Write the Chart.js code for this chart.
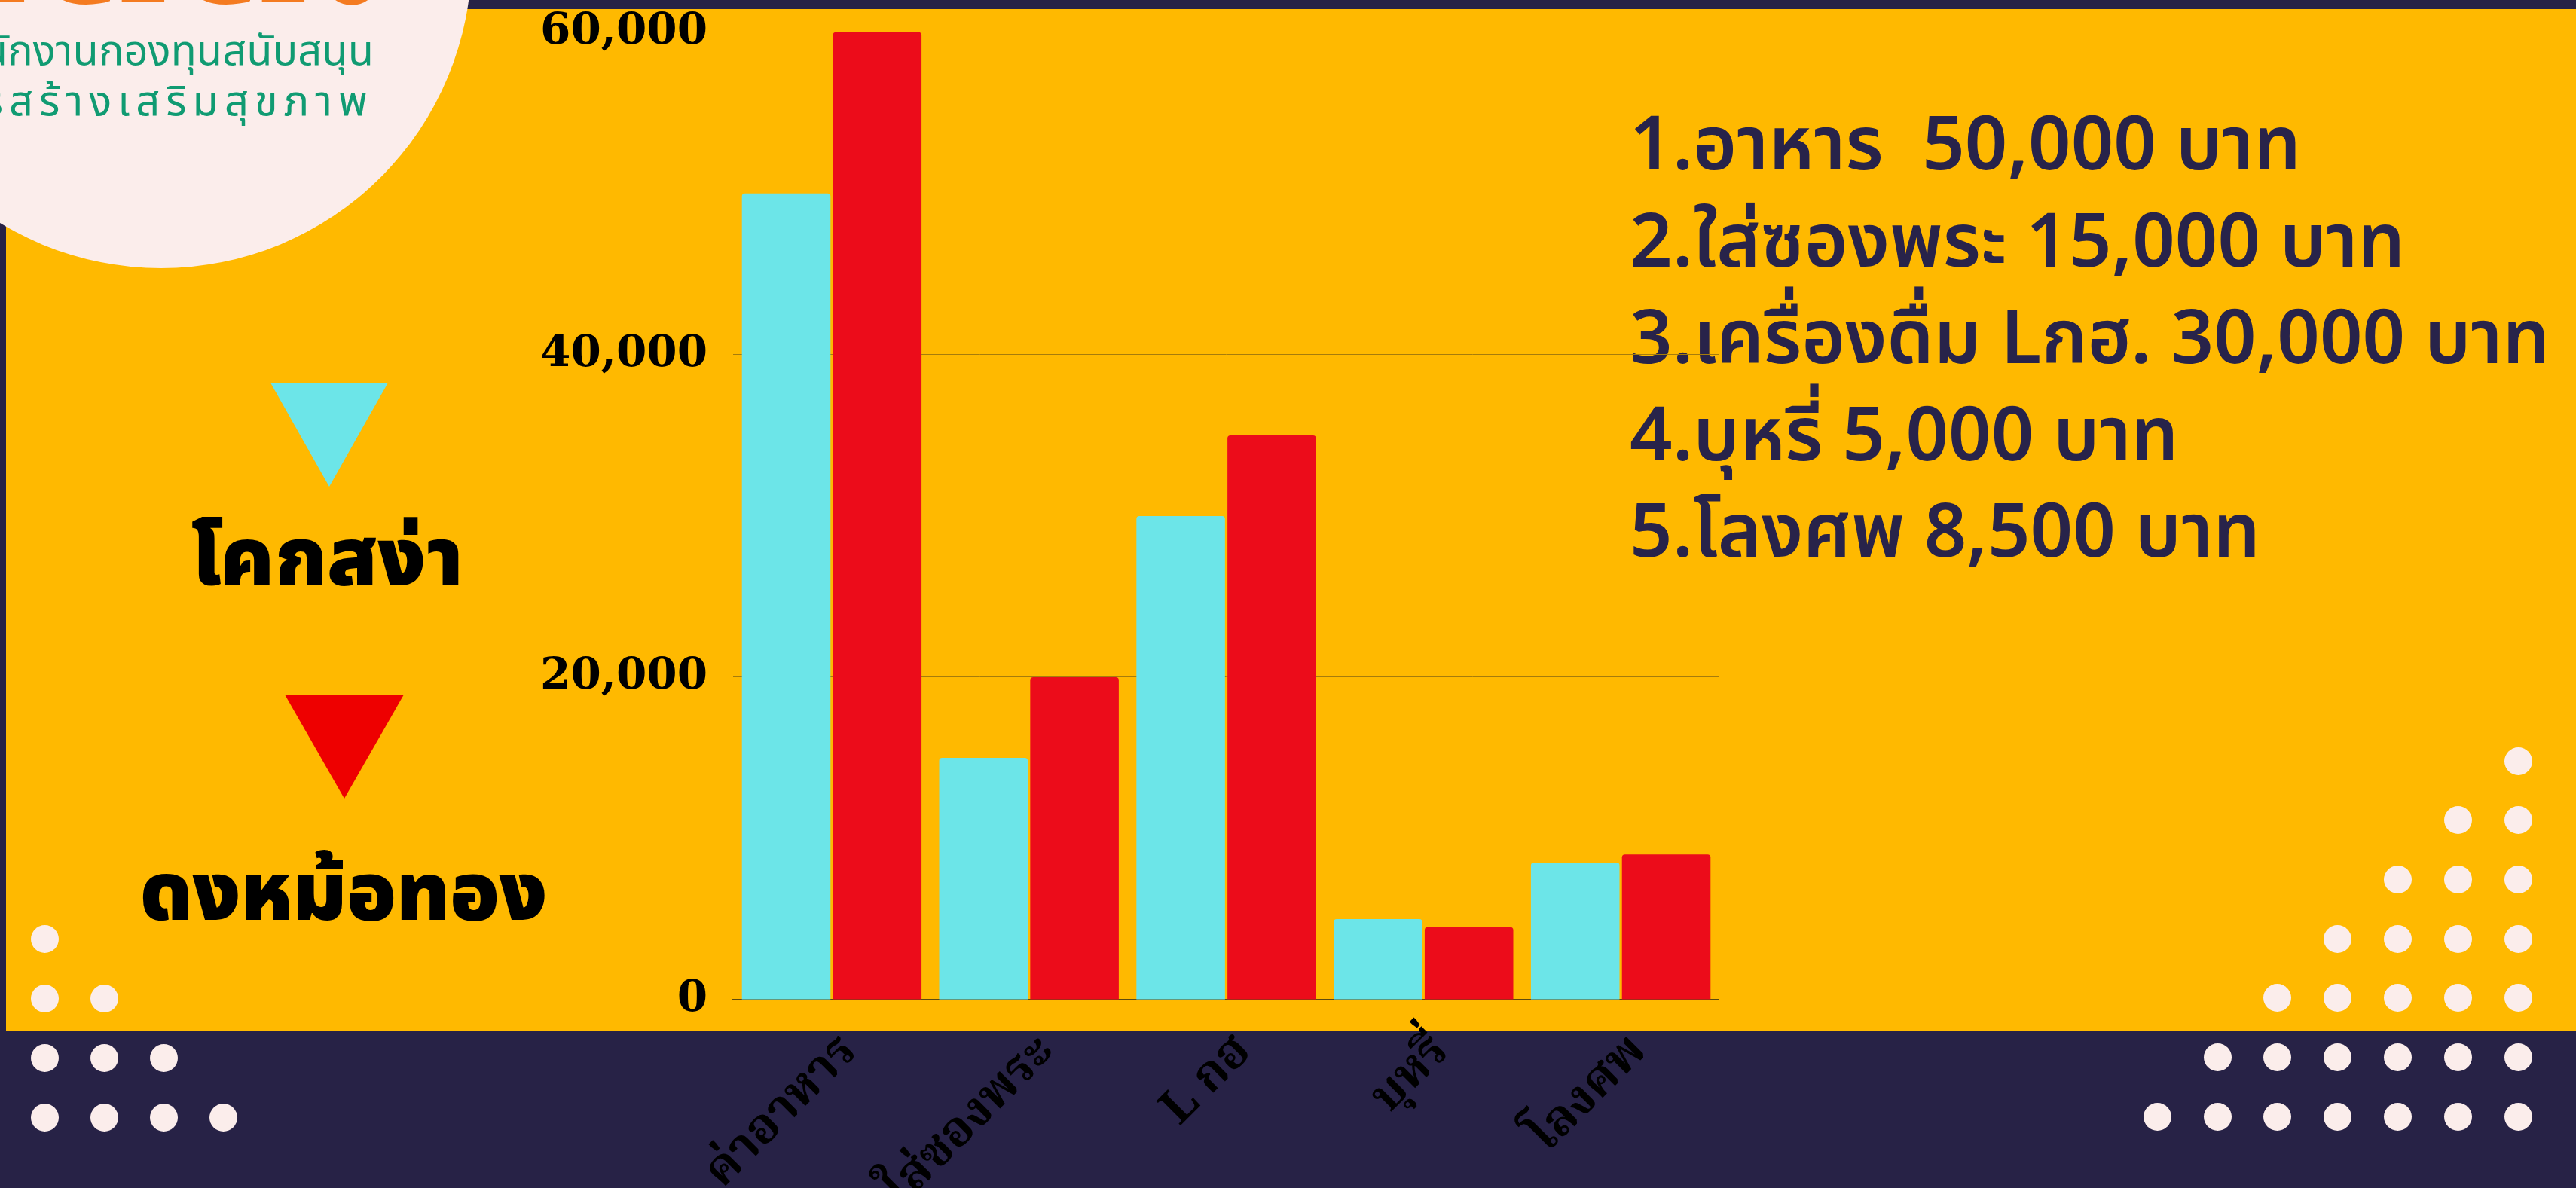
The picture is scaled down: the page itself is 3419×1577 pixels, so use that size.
<!DOCTYPE html>
<html lang="th">
<head>
<meta charset="utf-8">
<script src="https://cdn.jsdelivr.net/npm/chart.js@4.4.1/dist/chart.umd.min.js"></script>
<style>
    body {
        margin: 0;
        width: 3419px;
        height: 1577px;
        overflow: hidden;
        position: relative;
        background: #272246;
        font-family: "Noto Sans Thai", "Noto Sans", sans-serif;
    }
    #panel {
        position: absolute;
        left: 8px;
        top: 12px;
        width: 3411px;
        height: 1356px;
        background: #FFB900;
    }
    #bubble {
        position: absolute;
        left: -198px;
        top: -468px;
        width: 824px;
        height: 824px;
        border-radius: 50%;
        background: #FBEDEB;
        overflow: hidden;
    }
    .abs { position: absolute; white-space: nowrap; }
    #logo {
        right: 116px;
        top: 230px;
        color: #F47B20;
        font-weight: 900;
        font-size: 300px;
        line-height: 300px;
    }
    .green { color: #109B72; font-size: 56px; }
    .dot {
        position: absolute;
        width: 37px; height: 37px;
        border-radius: 50%;
        background: #FBEDEB;
    }
    .tri { position: absolute; width: 0; height: 0; }
    .legendText {
        position: absolute;
        font-size: 108px;
        font-weight: 900;
        color: #000;
        transform: translateX(-50%);
        white-space: nowrap;
    }
    .note {
        position: absolute;
        left: 2163px;
        font-size: 99px;
        font-weight: 600;
        color: #28234A;
        white-space: pre;
    }
    #chartBox {
        position: absolute;
        left: 600px;
        top: -26px;
        width: 1682px;
        height: 1603px;
    }
</style>
</head>
<body>
<div id="panel"></div>
<div id="dots"></div>
<div id="bubble">
    <div class="abs" id="logo">สสส.</div>
    <div class="abs green" style="right:130px;top:495px;">สำนักงานกองทุนสนับสนุน</div>
    <div class="abs green" style="right:130px;top:562px;letter-spacing:8px;">การสร้างเสริมสุขภาพ</div>
</div>
<div id="legend"></div>
<div id="notes"></div>
<div id="chartBox"><canvas id="chart"></canvas></div>

<script>
// Données du graphique
const categories = ['ค่าอาหาร', 'ใส่ซองพระ', 'L กฮ', 'บุหรี่', 'โลงศพ'];
const seriesNames = ['โคกสง่า', 'ดงหม้อทอง'];
const khokSanga = [50000, 15000, 30000, 5000, 8500];
const dongMoThong = [60000, 20000, 35000, 4500, 9000];
const seriesColors = ['#6CE5E8', '#EC0C1A'];
const yMax = 60000;
const yStep = 20000;
const noteLines = [
    '1.อาหาร  50,000 บาท',
    '2.ใส่ซองพระ 15,000 บาท',
    '3.เครื่องดื่ม Lกฮ. 30,000 บาท',
    '4.บุหรี่ 5,000 บาท',
    '5.โลงศพ 8,500 บาท'
];

// Décor : points
const dots = document.getElementById('dots');
function addDot(cx, cy) {
    const d = document.createElement('div');
    d.className = 'dot';
    d.style.left = (cx - 18.5) + 'px';
    d.style.top = (cy - 18.5) + 'px';
    dots.appendChild(d);
}
for (let r = 0; r < 7; r++) {
    for (let c = 0; c <= r; c++) addDot(3342 - c * 79.8, 1010 + r * 78.7);
}
for (let r = 0; r < 4; r++) {
    for (let c = 0; c <= r; c++) addDot(59 + c * 79, 1246 + r * 79);
}

// Légende à gauche
const legend = document.getElementById('legend');
const legendPos = [
    { cx: 437, top: 508, w: 157, h: 138, textX: 434, textTop: 662 },
    { cx: 457, top: 922, w: 158, h: 138, textX: 456, textTop: 1106 }
];
seriesNames.forEach((name, i) => {
    const p = legendPos[i];
    const t = document.createElement('div');
    t.className = 'tri';
    t.style.left = (p.cx - p.w / 2) + 'px';
    t.style.top = p.top + 'px';
    t.style.borderLeft = (p.w / 2) + 'px solid transparent';
    t.style.borderRight = (p.w / 2) + 'px solid transparent';
    t.style.borderTop = p.h + 'px solid ' + (i === 0 ? '#6CE5E8' : '#EE0000');
    legend.appendChild(t);
    const s = document.createElement('div');
    s.className = 'legendText';
    s.style.left = p.textX + 'px';
    s.style.top = p.textTop + 'px';
    s.textContent = name;
    legend.appendChild(s);
});

// Texte à droite
const notes = document.getElementById('notes');
noteLines.forEach((line, i) => {
    const n = document.createElement('div');
    n.className = 'note';
    n.style.top = (120 + i * 128.5) + 'px';
    n.textContent = line;
    notes.appendChild(n);
});

// Graphique
const ctx = document.getElementById('chart');
new Chart(ctx, {
    type: 'bar',
    data: {
        labels: categories,
        datasets: [
            {
                label: seriesNames[0],
                data: khokSanga,
                backgroundColor: seriesColors[0],
                borderRadius: { topLeft: 4, topRight: 4 },
                borderSkipped: 'start'
            },
            {
                label: seriesNames[1],
                data: dongMoThong,
                backgroundColor: seriesColors[1],
                borderRadius: { topLeft: 4, topRight: 4 },
                borderSkipped: 'start'
            }
        ]
    },
    options: {
        responsive: true,
        maintainAspectRatio: false,
        animation: false,
        categoryPercentage: 0.923,
        barPercentage: 0.973,
        layout: { padding: { top: 41, right: 0, left: 0, bottom: 0 } },
        plugins: {
            legend: { display: false },
            tooltip: { enabled: false }
        },
        scales: {
            x: {
                afterFit: function(scale) { scale.height = 250; },
                grid: { display: false },
                border: { display: true, color: '#5C4A10', width: 2 },
                ticks: {
                    autoSkip: false,
                    minRotation: 45,
                    maxRotation: 45,
                    padding: 28,
                    labelOffset: 28,
                    color: '#000',
                    font: { family: '"Noto Serif Thai", "Noto Sans Thai", serif', size: 64, weight: 'bold' }
                }
            },
            y: {
                min: 0,
                max: yMax,
                afterFit: function(scale) { scale.width = 373; },
                border: { display: false },
                grid: { color: '#A67C0C', lineWidth: 1, drawTicks: false },
                ticks: {
                    stepSize: yStep,
                    padding: 34,
                    color: '#000',
                    font: { family: '"DejaVu Serif"', size: 58, weight: 'bold' },
                    callback: function(value) { return value.toLocaleString('en-US'); }
                }
            }
        }
    }
});
</script>
</body>
</html>
